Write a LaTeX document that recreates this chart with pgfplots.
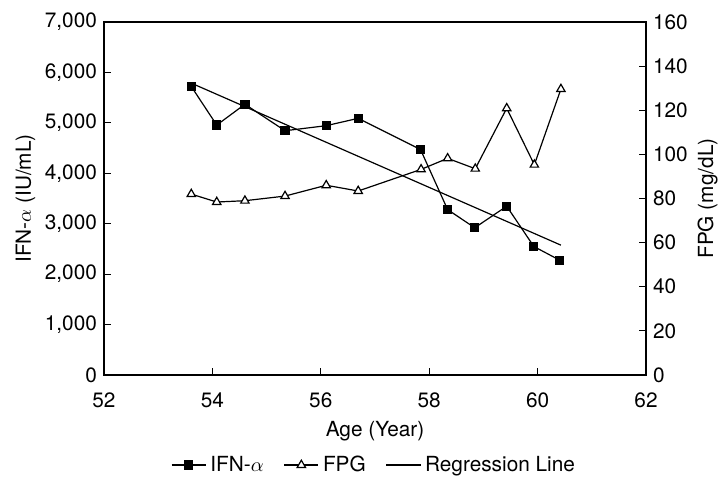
\documentclass[border=0pt]{standalone}
\usepackage{fontspec}
\setmainfont{TeX Gyre Heros}
\usepackage{pgfplots}
\pgfplotsset{compat=1.18}
\begin{document}
\begin{tikzpicture}[font=\fontsize{10.4}{12.5}\selectfont]
\pgfplotsset{
  common/.style={
    at={(52pt,51pt)}, anchor=south west, scale only axis,
    width=271pt, height=176.5pt,
    xmin=52, xmax=62,
    tick align=inside, major tick length=3.5pt,
    axis line style={line width=0.6pt}, every tick/.style={black, line width=0.6pt},
    /pgf/number format/assume math mode=true,
    /pgf/number format/1000 sep={,},
    scaled y ticks=false,
  },
  ifn/.style={black, line width=0.6pt, mark=square*, mark size=2pt, mark options={solid, fill=black}},
  fpg/.style={black, line width=0.6pt, mark=triangle*, mark size=2.4pt, mark options={solid, fill=white}},
  regr/.style={black, line width=0.6pt},
}
\begin{axis}[common,
    ymin=0, ymax=7000,
    xtick={52,54,...,62}, ytick={0,1000,...,7000},
    xtick pos=bottom, ytick pos=left,
    xticklabel style={yshift=-5.5pt},
    xlabel={Age (Year)}, ylabel={IFN-$\alpha$ (IU/mL)},
    xlabel style={yshift=0.5pt},
    ylabel style={yshift=-2pt},
  ]
  % IFN-alpha
  \addplot[ifn] coordinates {
    (53.61,5722) (54.08,4956) (54.60,5369) (55.34,4844) (56.10,4944) (56.69,5090)
    (57.84,4471) (58.34,3280) (58.84,2920) (59.43,3347) (59.93,2549) (60.41,2275)};
  % regression line
  \addplot[regr] coordinates {(53.61,5788) (60.43,2575)};
\end{axis}
\begin{axis}[common,
    ymin=0, ymax=160, ytick={0,20,...,160},
    axis x line=none, axis y line*=right,
    ylabel={FPG (mg/dL)},
    ylabel style={yshift=2pt},
    legend columns=3,
    legend style={at={(0.5,-0.255)}, anchor=center, draw=none, fill=none,
      /tikz/every even column/.append style={column sep=8pt}},
  ]
  \addlegendimage{ifn}
  \addlegendentry{IFN-$\alpha$}
  \addplot[fpg] coordinates {
    (53.61,82.0) (54.08,78.4) (54.60,79.0) (55.34,81.1) (56.10,86.0) (56.69,83.4)
    (57.85,93.2) (58.34,98.2) (58.85,93.5) (59.43,120.9) (59.94,95.3) (60.43,129.6)};
  \addlegendentry{FPG}
  \addlegendimage{regr}
  \addlegendentry{Regression Line}
\end{axis}
\pgfresetboundingbox
\path (0,0) rectangle (363pt,238.5pt);
\end{tikzpicture}
\end{document}
